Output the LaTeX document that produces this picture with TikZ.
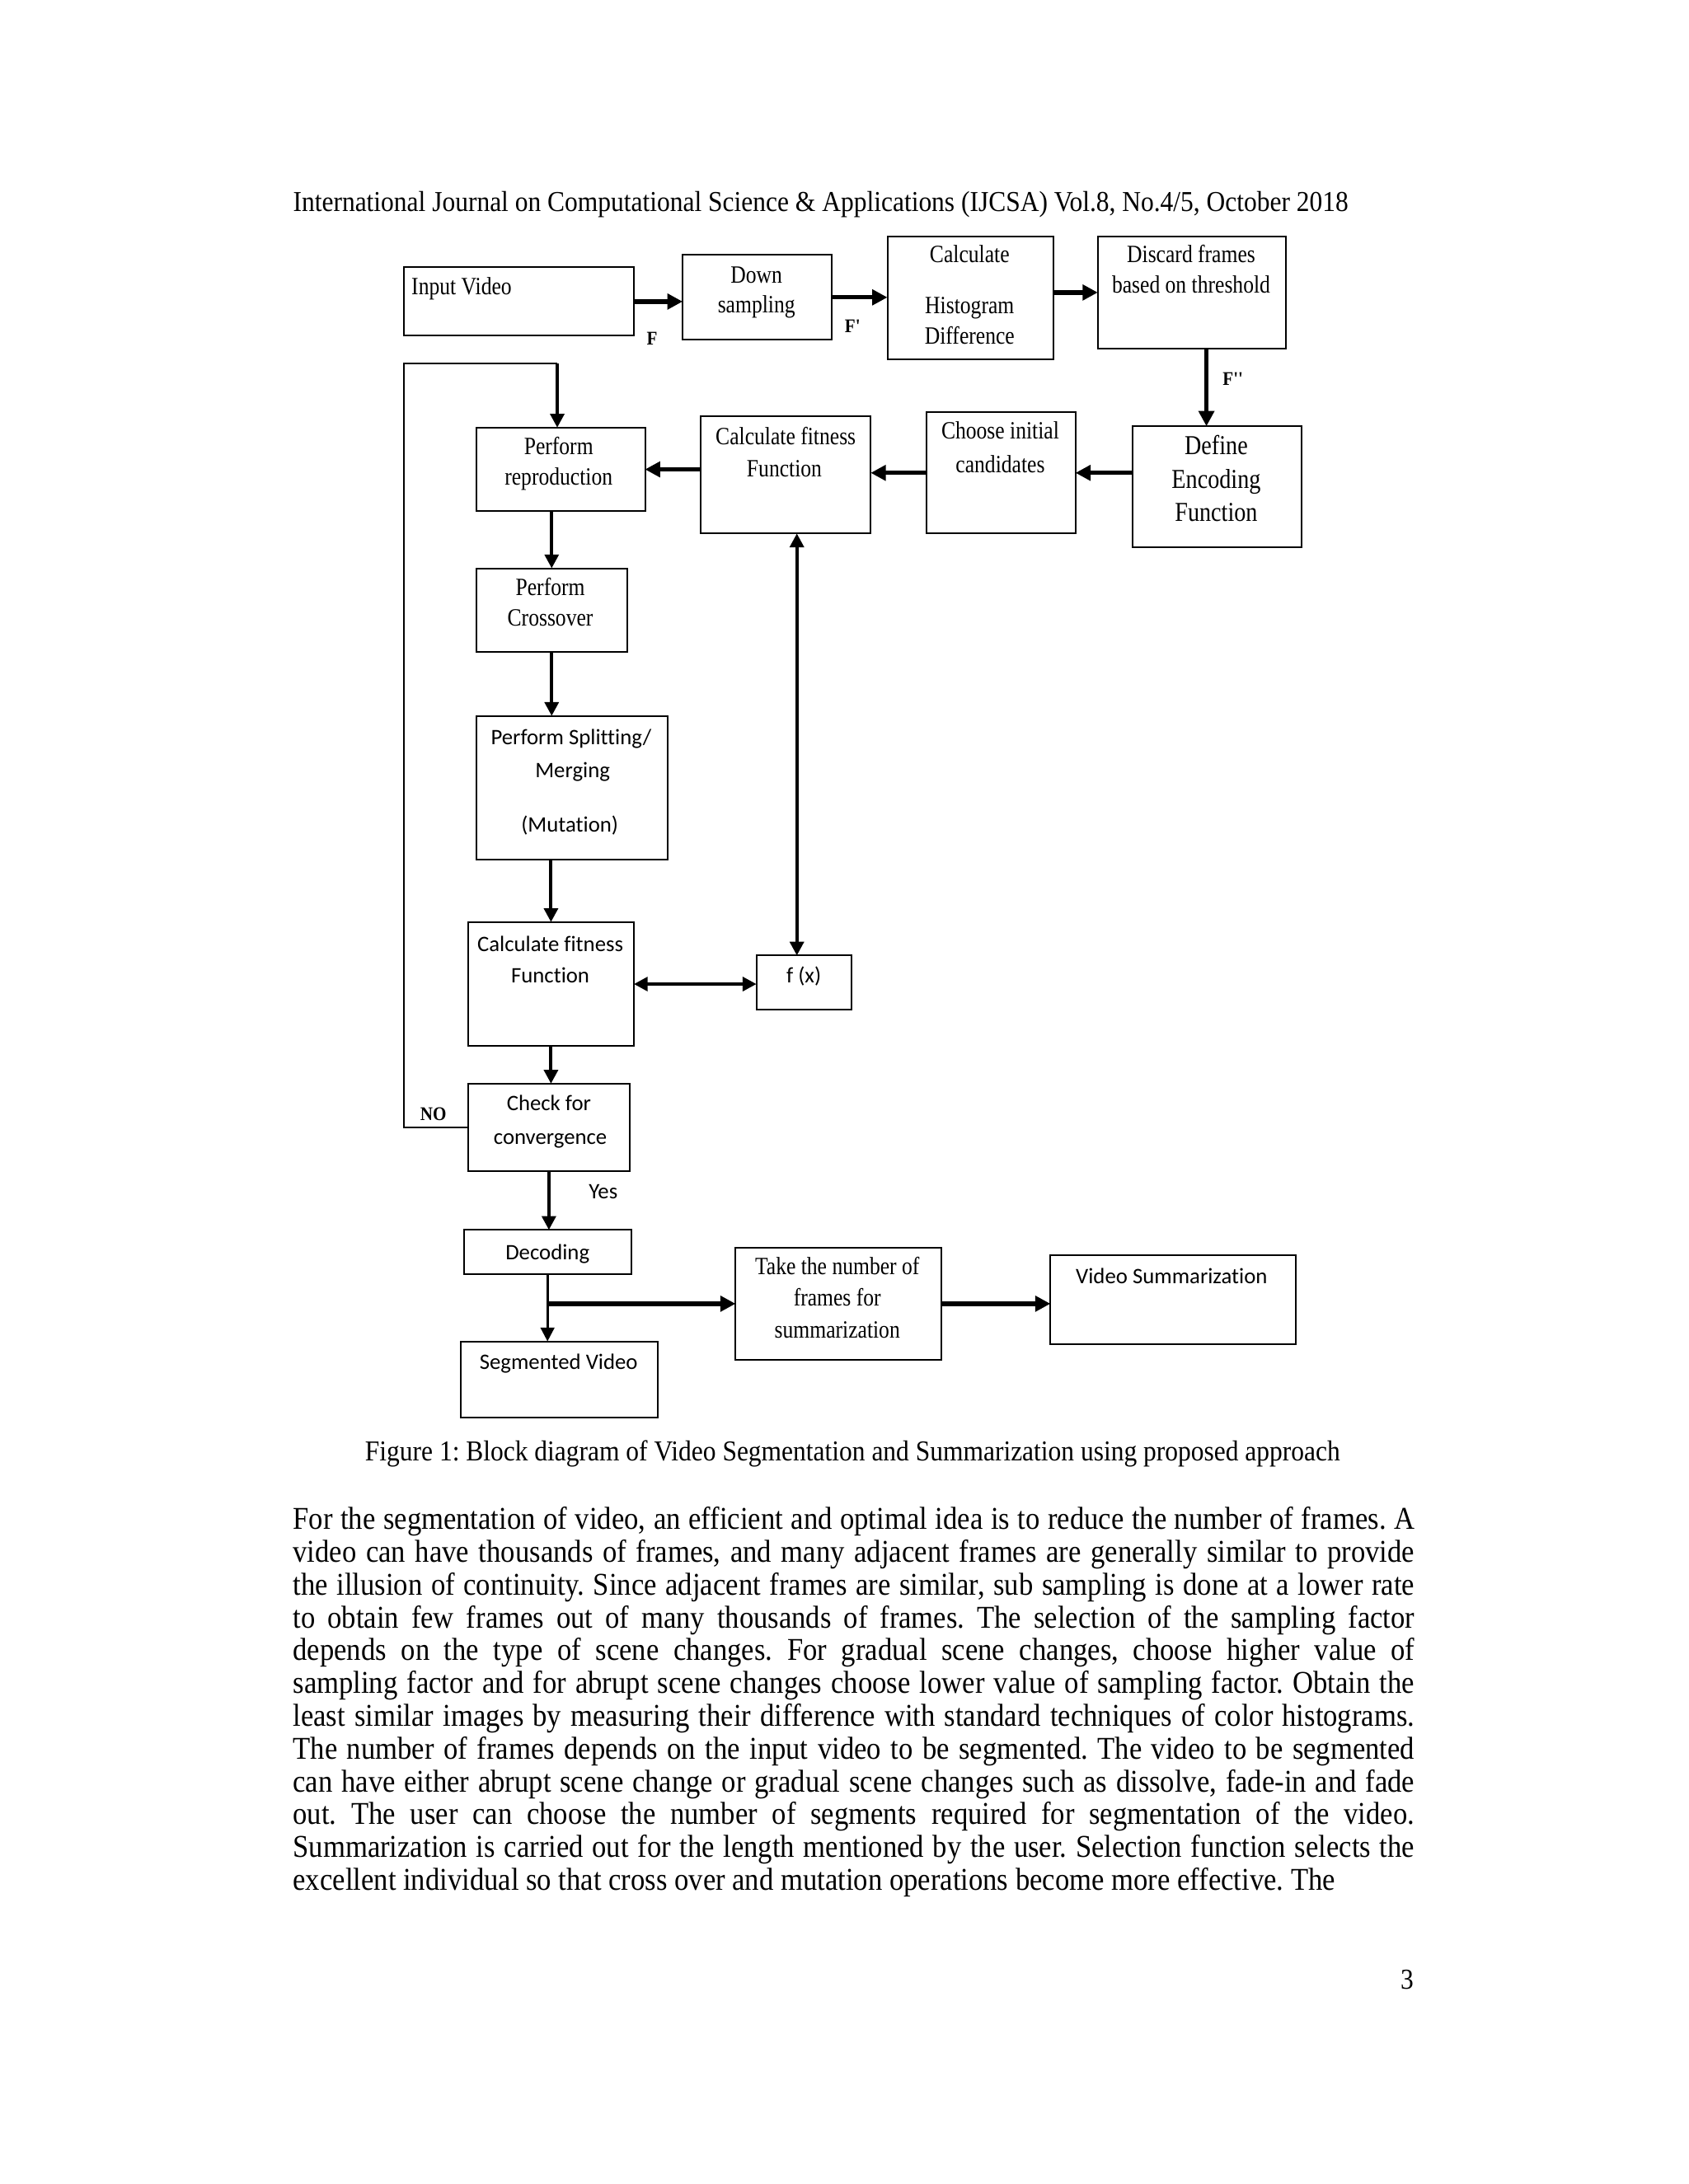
\documentclass[tikz,border=0pt]{standalone}
\usepackage{fontspec}
\setmainfont{Liberation Serif}
\newfontfamily\tnr{Liberation Serif}[FakeStretch=0.9]
\newfontfamily\tbox{Liberation Serif}[FakeStretch=0.85]
\newfontfamily\cbox{Carlito}[Ligatures=NoCommon]
\usetikzlibrary{arrows.meta}
\newcommand\mkbox[5]{\node[box, minimum width={(#4-#2)*0.50495pt}, minimum height={(#5-#3)*0.50495pt}] (#1) at ({(#2+#4)/2},{(#3+#5)/2}) {};}
\newcommand\pline[2]{\node[para] at (210,#1) {\makebox[406.5pt][s]{#2}};}
\begin{document}
\frenchspacing
\begin{tikzpicture}[x=0.50495pt,y=-0.50495pt,
  box/.style={draw, line width=0.6pt, inner sep=0pt, outer sep=0pt},
  tt/.style={inner sep=0pt, anchor=mid, yshift=-0.9pt, font=\tbox\fontsize{9}{10}\selectfont},
  ttb/.style={inner sep=0pt, anchor=mid, yshift=-0.9pt, font=\tbox\fontsize{9.9}{11}\selectfont},
  ct/.style={inner sep=0pt, anchor=mid, yshift=-0.9pt, font=\cbox\fontsize{8}{9}\selectfont},
  lab/.style={inner sep=0pt, anchor=mid, font=\tnr\fontsize{7}{8}\selectfont\bfseries},
  hdrs/.style={inner sep=0pt, anchor=base west, font=\tnr\fontsize{10.45}{12}\selectfont},
  para/.style={inner sep=0pt, anchor=base west, font=\tnr\fontsize{11.5}{11.9}\selectfont},
  arr/.style={line width=1.6pt, -{Triangle[length=5.5pt,width=5.5pt]}},
  arrm/.style={line width=1.2pt, -{Triangle[length=5pt,width=5pt]}},
  arrd/.style={line width=1.2pt, {Triangle[length=5pt,width=5pt]}-{Triangle[length=5pt,width=5pt]}},
  arrt/.style={line width=0.8pt, -{Triangle[length=5pt,width=5pt]}},
  thinline/.style={line width=0.6pt}]
\fill[white] (0,0) rectangle (1212,1568);
\useasboundingbox (0,0) rectangle (1212,1568);

% header
\node[hdrs] (hdr) at (210,152) {International Journal on Computational Science \& Applications (IJCSA) Vol.8, No.4/5, October 2018};

% boxes
\mkbox{inp}{290}{192}{455}{241}
\mkbox{down}{490}{183}{597}{244}
\mkbox{calc}{637}{170}{756}{258}
\mkbox{disc}{788}{170}{923}{250}
\mkbox{def}{813}{306}{934}{393}
\mkbox{cho}{665}{296}{772}{383}
\mkbox{fita}{503}{299}{625}{383}
\mkbox{rep}{342}{307}{463}{367}
\mkbox{cro}{342}{408}{450}{468}
\mkbox{spl}{342}{514}{479}{617}
\mkbox{fitb}{336}{662}{455}{751}
\mkbox{fx}{543}{686}{611}{725}
\mkbox{chk}{336}{778}{452}{841}
\mkbox{dec}{333}{883}{453}{915}
\mkbox{seg}{331}{963}{472}{1018}
\mkbox{take}{528}{896}{676}{976}
\mkbox{vs}{754}{901}{930}{965}

% box texts
\node[tt, anchor=mid west] (t1) at (295,205) {Input Video};
\node[tt] (t2a) at (543,197) {Down};
\node[tt] (t2b) at (543,218) {sampling};
\node[tt] (t3a) at (696,182) {Calculate};
\node[tt] (t3b) at (696,219) {Histogram};
\node[tt] (t3c) at (696,241) {Difference};
\node[tt] (t4a) at (855,182) {Discard frames};
\node[tt] (t4b) at (855,204) {based on threshold};
\node[ttb] (t5a) at (873,320) {Define};
\node[ttb] (t5b) at (873,344) {Encoding};
\node[ttb] (t5c) at (873,368) {Function};
\node[tt] (t6a) at (718,309) {Choose initial};
\node[tt] (t6b) at (718,333) {candidates};
\node[tt] (t7a) at (564,313) {Calculate fitness};
\node[tt] (t7b) at (563,336) {Function};
\node[tt] (t8a) at (401,320) {Perform};
\node[tt] (t8b) at (401,342) {reproduction};
\node[tt] (t9a) at (395,421) {Perform};
\node[tt] (t9b) at (395,443) {Crossover};
\node[ct] (t10a) at (410,528) {Perform Splitting/};
\node[ct] (t10b) at (411,552) {Merging};
\node[ct] (t10c) at (409,591) {(Mutation)};
\node[ct] (t11a) at (395,677) {Calculate fitness};
\node[ct] (t11b) at (395,699) {Function};
\node[ct] (t12) at (577,699) {f (x)};
\node[ct] (t13a) at (394,791) {Check for};
\node[ct] (t13b) at (395,815) {convergence};
\node[ct] (yes) at (433,854) {Yes};
\node[ct] (t14) at (393,898) {Decoding};
\node[ct] (t15) at (401,977) {Segmented Video};
\node[tt] (t16a) at (601,909) {Take the number of};
\node[tt] (t16b) at (601,931) {frames for};
\node[tt] (t16c) at (601,954) {summarization};
\node[ct] (t17) at (841,915) {Video Summarization};

% labels
\node[lab] (lF) at (468,243) {F};
\node[lab] (lF1) at (612,234) {F'};
\node[lab] (lF2) at (885,272) {F''};
\node[lab] (lNO) at (311,800) {NO};

% connectors
\draw[arr] (inp.east) -- (inp.east -| down.west);
\draw[arr] (down.east) -- (down.east -| calc.west);
\draw[arr] (calc.east |- disc.west) -- (disc.west);
\draw[arr] ([xshift={10.5*0.50495pt}]disc.south) -- ([xshift={10.5*0.50495pt}]disc.south |- def.north);
\draw[arr] (def.west |- cho.east) -- (cho.east);
\draw[arr] (cho.west) -- (cho.west -| fita.east);
\draw[arr] (fita.west |- rep.east) -- (rep.east);
\coordinate (loopA) at (290,261);
\coordinate (loopB) at (400,261);
\draw[thinline] (chk.west) -| (loopA) -- (loopB);
\draw[arrm] (loopB) -- (loopB |- rep.north);
\draw[arrm] (rep.south -| cro.north) -- (cro.north);
\draw[arrm] (cro.south) -- (cro.south |- spl.north);
\draw[arrm] (spl.south -| fitb.north) -- (fitb.north);
\draw[arrd] (fitb.east) -- (fitb.east -| fx.west);
\draw[arrd] ([xshift={8*0.50495pt}]fita.south) -- ([xshift={8*0.50495pt}]fita.south |- fx.north);
\draw[arrm] (fitb.south) -- (fitb.south |- chk.north);
\draw[arrm] (chk.south) -- (chk.south |- dec.north);
\draw[arrt] (dec.south) -- (dec.south |- seg.north);
\draw[arr] (dec.south |- take.west) -- (take.west);
\draw[arr] (take.east) -- (take.east -| vs.west);

% caption
\node[hdrs, anchor=base] (cap) at (612,1049) {Figure 1: Block diagram of Video Segmentation and Summarization using proposed approach};

% paragraph
\pline{1098}{For the segmentation of video, an efficient and optimal idea is to reduce the number of frames. A}
\pline{1121.5}{video can have thousands of frames, and many adjacent frames are generally similar to provide}
\pline{1145}{the illusion of continuity. Since adjacent frames are similar, sub sampling is done at a lower rate}
\pline{1168.6}{to obtain few frames out of many thousands of frames. The selection of the sampling factor}
\pline{1192.2}{depends on the type of scene changes. For gradual scene changes, choose higher value of}
\pline{1215.7}{sampling factor and for abrupt scene changes choose lower value of sampling factor. Obtain the}
\pline{1239.3}{least similar images by measuring their difference with standard techniques of color histograms.}
\pline{1262.9}{The number of frames depends on the input video to be segmented. The video to be segmented}
\pline{1286.4}{can have either abrupt scene change or gradual scene changes such as dissolve, fade-in and fade}
\pline{1310}{out. The user can choose the number of segments required for segmentation of the video.}
\pline{1333.5}{Summarization is carried out for the length mentioned by the user. Selection function selects the}
\node[para] (plast) at (210,1357) {excellent individual so that cross over and mutation operations become more effective. The};

% page number
\node[hdrs, anchor=base east] (pg) at (1015,1428) {3};
\end{tikzpicture}
\end{document}
